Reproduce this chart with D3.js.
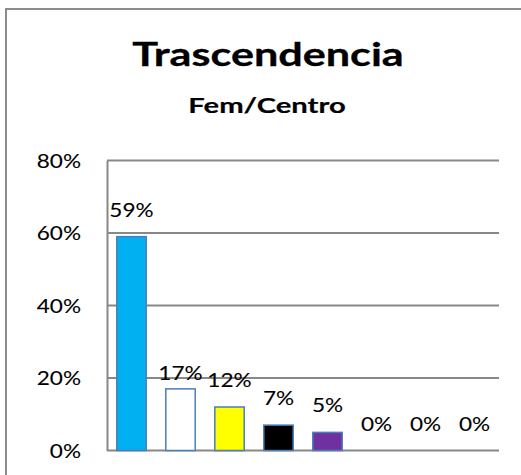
<!DOCTYPE html>
<html>
<head>
<meta charset="utf-8">
<script src="https://cdn.jsdelivr.net/npm/d3@7"></script>
<style>
  html, body { margin: 0; padding: 0; background: #fff; }
  svg { display: block; }
  text { font-family: Lato, "Open Sans", sans-serif; fill: #000; }
</style>
</head>
<body>
<svg id="chart" width="521" height="475"></svg>
<script>
const title = "Trascendencia";
const subtitle = "Fem/Centro";
const categories = ["Cat 1", "Cat 2", "Cat 3", "Cat 4", "Cat 5", "Cat 6", "Cat 7", "Cat 8"];
const values = [59, 17, 12, 7, 5, 0, 0, 0];
const barColors = ["#00B0F0", "#FFFFFF", "#FFFF00", "#000000", "#7030A0", "#FFFFFF", "#FFFFFF", "#FFFFFF"];
const yTicks = [0, 20, 40, 60, 80];

const svg = d3.select("#chart");
const W = 521, H = 475;
const plot = { left: 107, right: 499, top: 160.5, bottom: 450.5 };
const gridColor = "#888888";
const SX = 1.22;      // horizontal stretch of text (reference is stretched)
const SX_TITLE = 1.37;

// outer frame (left and top edges visible)
svg.append("path")
  .attr("d", `M6,${H} L6,9 L${W},9`)
  .attr("fill", "none")
  .attr("stroke", "#8c8c8c")
  .attr("stroke-width", 2);

const x = d3.scaleBand()
  .domain(categories)
  .range([plot.left, plot.right])
  .paddingInner(0.4)
  .paddingOuter(0.2);

const y = d3.scaleLinear()
  .domain([0, 80])
  .range([plot.bottom, plot.top]);

// gridlines
svg.append("g")
  .selectAll("line")
  .data(yTicks)
  .join("line")
  .attr("x1", plot.left)
  .attr("x2", plot.right)
  .attr("y1", d => y(d))
  .attr("y2", d => y(d))
  .attr("stroke", gridColor)
  .attr("stroke-width", 2);

// y axis
const yAxis = svg.append("g")
  .attr("transform", `translate(${plot.left},0)`)
  .call(d3.axisLeft(y).tickValues(yTicks).tickSize(0).tickFormat(d => d + "%"));
yAxis.select(".domain")
  .attr("stroke", gridColor)
  .attr("stroke-width", 2);
yAxis.selectAll("text")
  .attr("x", 0)
  .attr("dy", "0.36em")
  .attr("font-family", "Lato")
  .attr("font-size", 18.5)
  .attr("fill", "#000")
  .attr("stroke", "#000")
  .attr("stroke-width", 0.1)
  .attr("transform", `translate(-26,0) scale(${SX},1)`);

// bars
svg.append("g")
  .selectAll("rect")
  .data(values)
  .join("rect")
  .attr("x", (d, i) => x(categories[i]))
  .attr("width", x.bandwidth())
  .attr("y", d => y(d))
  .attr("height", d => y(0) - y(d))
  .attr("fill", (d, i) => barColors[i])
  .attr("stroke", (d, i) => d > 0 ? "#4A7EBB" : "none")
  .attr("stroke-width", 1.5);

// data labels
const labelLift = i => (i === 1 ? 9 : 20);
svg.append("g")
  .selectAll("text")
  .data(values)
  .join("text")
  .attr("text-anchor", "middle")
  .attr("font-size", 18.5)
  .attr("stroke", "#000")
  .attr("stroke-width", 0.1)
  .attr("transform", (d, i) =>
    `translate(${x(categories[i]) + x.bandwidth() / 2},${y(d) - labelLift(i)}) scale(${SX},1)`)
  .text(d => d + "%");

// titles
svg.append("text")
  .attr("text-anchor", "middle")
  .attr("font-weight", "bold")
  .attr("font-size", 31.5)
  .attr("stroke", "#000")
  .attr("stroke-width", 0.3)
  .attr("transform", `translate(268,66) scale(${SX_TITLE},1)`)
  .text(title);

svg.append("text")
  .attr("text-anchor", "middle")
  .attr("font-weight", "bold")
  .attr("font-size", 21)
  .attr("stroke", "#000")
  .attr("stroke-width", 0.2)
  .attr("transform", `translate(267,113) scale(1.39,1)`)
  .text(subtitle);
</script>
</body>
</html>
